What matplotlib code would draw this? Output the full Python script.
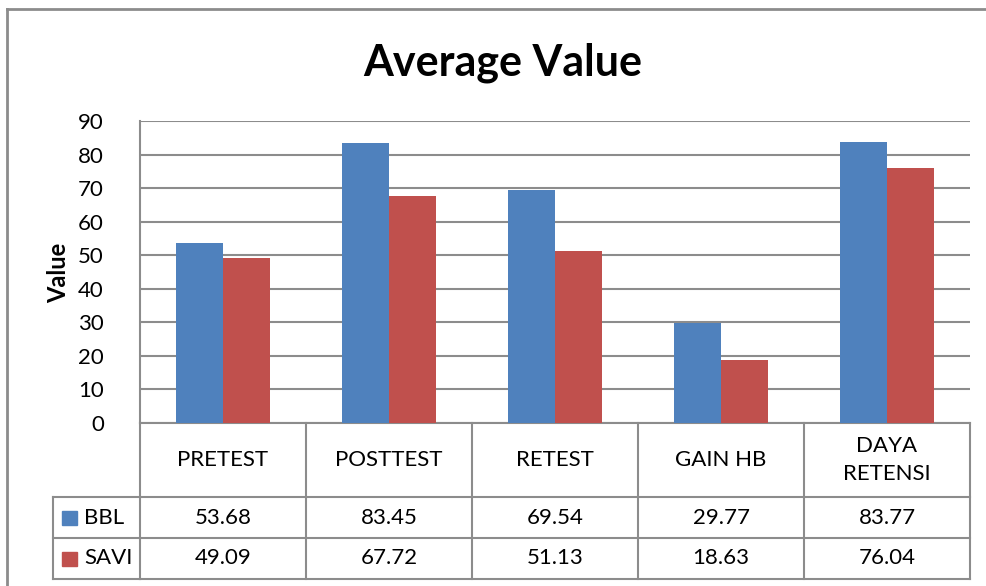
import matplotlib.pyplot as plt
import matplotlib.transforms as mtransforms
import numpy as np

# --- Data ---
categories = ["PRETEST", "POSTTEST", "RETEST", "GAIN HB", "DAYA\nRETENSI"]
series_names = ["BBL", "SAVI"]
bbl_values = [53.68, 83.45, 69.54, 29.77, 83.77]
savi_values = [49.09, 67.72, 51.13, 18.63, 76.04]
y_ticks = [0, 10, 20, 30, 40, 50, 60, 70, 80, 90]

# --- Style ---
plt.rcParams['font.family'] = ['Lato', 'DejaVu Sans']
colors = ['#4F81BD', '#C0504D']
line_gray = '#8C8C8C'
W, H = 987, 586
fs = 16

fig = plt.figure(figsize=(W / 100, H / 100), dpi=100)

# full-figure overlay in pixel units (y grows downward)
ov = fig.add_axes([0, 0, 1, 1], zorder=0)
ov.set_xlim(0, W)
ov.set_ylim(H, 0)
ov.axis('off')

# plot area: 140..970 px wide, 121..423 px tall
ax = fig.add_axes([140 / W, 1 - 423 / H, 830 / W, 302 / H], zorder=1)
ax.patch.set_alpha(0)

x = np.arange(len(categories))
bar_w = 1 / 3.5  # gap width 150%
ax.bar(x - bar_w / 2, bbl_values, bar_w, color=colors[0], zorder=3)
ax.bar(x + bar_w / 2, savi_values, bar_w, color=colors[1], zorder=3)

ax.set_xlim(-0.5, len(categories) - 0.5)
ax.set_ylim(0, 90)
ax.set_yticks(y_ticks)
ax.set_yticklabels([str(t) for t in y_ticks], fontsize=fs)
ax.tick_params(axis='y', length=0, pad=26)
ax.set_xticks([])
ax.yaxis.grid(True, color=line_gray, linewidth=1.5, zorder=0)
for s in ['top', 'right', 'bottom']:
    ax.spines[s].set_visible(False)
ax.spines['left'].set_color(line_gray)
ax.spines['left'].set_linewidth(1.5)

fig.text(59 / W, 1 - 273 / H, "Value", rotation=90, fontsize=17, fontweight='bold',
         ha='center', va='center')
fig.text(503 / W, 1 - 63 / H, "Average Value", fontsize=31, fontweight='bold',
         ha='center', va='center')

# --- Data table (x from the bar axis, y in pixels) ---
tr = mtransforms.blended_transform_factory(ax.transData, ov.transData)
row_y = [423, 497, 538, 579]
x_edges = np.arange(len(categories) + 1) - 0.5
lk = dict(color=line_gray, linewidth=1.5, transform=tr, clip_on=False)

# horizontal lines
ov.plot([x_edges[0], x_edges[-1]], [row_y[0]] * 2, **lk)
for yy in row_y[1:]:
    ov.plot([x_edges[0], x_edges[-1]], [yy] * 2, **lk)
    ov.plot([53, 140], [yy, yy], color=line_gray, linewidth=1.5, clip_on=False)
# vertical lines
for xe in x_edges:
    ov.plot([xe, xe], [row_y[0], row_y[-1]], **lk)
ov.plot([53, 53], [row_y[1], row_y[-1]], color=line_gray, linewidth=1.5)

for i, cat in enumerate(categories):
    ov.text(i, (row_y[0] + row_y[1]) / 2, cat, transform=tr, ha='center', va='center',
            fontsize=fs, linespacing=1.45)
    ov.text(i, (row_y[1] + row_y[2]) / 2, f"{bbl_values[i]:.2f}", transform=tr,
            ha='center', va='center', fontsize=fs)
    ov.text(i, (row_y[2] + row_y[3]) / 2, f"{savi_values[i]:.2f}", transform=tr,
            ha='center', va='center', fontsize=fs)

# legend keys in first column
for k, name in enumerate(series_names):
    yc = (row_y[k + 1] + row_y[k + 2]) / 2
    ov.add_patch(plt.Rectangle((62, yc - 7), 15, 14, color=colors[k]))
    ov.text(84, yc, name, ha='left', va='center', fontsize=fs)

# outer chart frame (cut off at right and bottom)
ov.plot([7, 7], [9, H], color=line_gray, linewidth=2)
ov.plot([7, W], [9, 9], color=line_gray, linewidth=2)

fig.savefig("out.png", dpi=100)
